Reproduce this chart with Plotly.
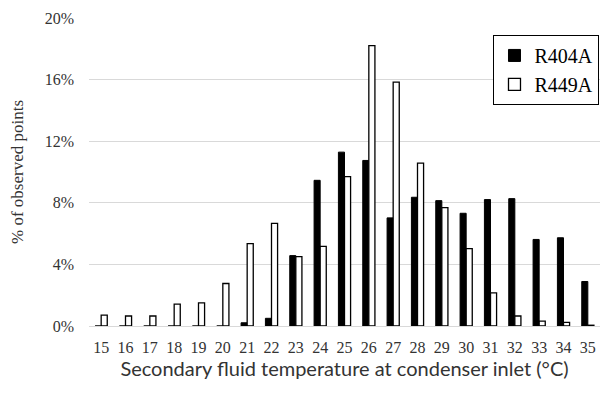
import plotly.graph_objects as go

temps = [str(t) for t in range(15, 36)]
r404a = [0, 0, 0, 0, 0, 0, 0.21, 0.5, 4.57, 9.46, 11.29, 10.75, 7.02, 8.36, 8.14, 7.32, 8.21, 8.27, 5.62, 5.73, 2.89]
r449a = [0.71, 0.65, 0.65, 1.42, 1.5, 2.76, 5.35, 6.66, 4.5, 5.17, 9.7, 18.2, 15.84, 10.58, 7.69, 5.02, 2.15, 0.65, 0.32, 0.24, 0.05]
yticks = [0, 4, 8, 12, 16, 20]
ytick_text = ["0%", "4%", "8%", "12%", "16%", "20%"]

serif = "Liberation Serif"

fig = go.Figure()
fig.add_trace(go.Bar(x=temps, y=r404a, name="R404A",
                     marker=dict(color="black", line=dict(color="black", width=1))))
fig.add_trace(go.Bar(x=temps, y=r449a, name="R449A",
                     marker=dict(color="white", line=dict(color="black", width=1.3))))

fig.update_layout(
    width=603, height=397,
    margin=dict(l=89, r=3, t=18, b=71),
    paper_bgcolor="white", plot_bgcolor="white",
    barmode="group", bargap=0.5, bargroupgap=0.0,
    font=dict(family=serif, size=16, color="#404040"),
    legend=dict(x=0.999, y=0.945, xanchor="right", yanchor="top",
                bordercolor="black", borderwidth=1, bgcolor="white",
                font=dict(family=serif, size=20, color="black"),
                itemwidth=30, tracegroupgap=0),
    showlegend=True,
)
fig.update_xaxes(
    type="category", showgrid=False, showline=False, ticks="",
    ticklabelstandoff=10,
    tickfont=dict(family=serif, size=16, color="#333333"),
    title=dict(text="Secondary fluid temperature at condenser inlet (°C)",
               font=dict(family="Lato", size=20, color="#333333"),
               standoff=6),
)
fig.update_yaxes(
    range=[0, 20], tickvals=yticks, ticktext=ytick_text,
    showgrid=True, gridcolor="#d9d9d9", gridwidth=1.3,
    zeroline=True, zerolinecolor="#d9d9d9", zerolinewidth=1.3,
    showline=False, ticks="", ticklabelstandoff=14,
    tickfont=dict(family=serif, size=16, color="#333333"),
    title=dict(text="% of observed points",
               font=dict(family=serif, size=17, color="#333333"), standoff=16),
)

fig.write_html("out.html")
